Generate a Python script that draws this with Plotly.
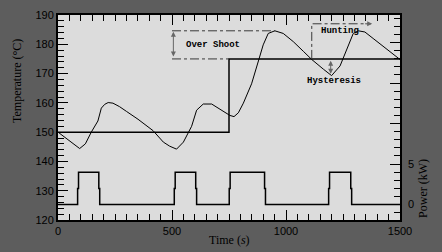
import plotly.graph_objects as go

# Temperature curve (s, °C)
time_s = [0, 30, 60, 95, 120, 146, 175, 190, 205, 220, 241, 270, 300, 351, 417, 462, 490,
          520, 550, 571, 586, 608, 637, 674, 700, 725, 754, 772, 791, 813, 849, 879, 900,
          922, 951, 988, 1032, 1076, 1113, 1164, 1200, 1237, 1266, 1295, 1317, 1346, 1382,
          1427, 1471, 1500]
temp_c = [150, 148.3, 146.3, 144.4, 146, 150, 153.8, 158.2, 159.5, 160.1, 159.9, 158.7, 157.1,
          154.4, 150.5, 146.6, 145.2, 144.2, 146.6, 150, 152, 157.5, 159.6, 159.6, 158.4, 157.2,
          155.7, 155.3, 156.6, 159.9, 166.5, 174.3, 179.8, 183.7, 184.6, 183.7, 180.9, 177.6,
          174.8, 171.5, 169.3, 172.6, 178.2, 183.7, 184.6, 184.2, 182, 179.2, 176.5, 174.8]

# Setpoint (°C)
sp_time = [0, 750, 750, 1500]
sp_temp = [150, 150, 175, 175]

# Heater power (kW)
pw_time = [0, 86, 86, 90, 90, 179, 179, 183, 183,
           510, 510, 514, 514, 604, 604, 608, 608,
           751, 751, 755, 755, 906, 906, 910, 910,
           1187, 1187, 1191, 1191, 1284, 1284, 1288, 1288, 1500]
pw_kw = [0, 0, 2, 2, 4, 4, 2, 2, 0,
         0, 2, 2, 4, 4, 2, 2, 0,
         0, 2, 2, 4, 4, 2, 2, 0,
         0, 2, 2, 4, 4, 2, 2, 0, 0]

# Annotation guide lines
os_top_t = [500, 952]
os_top_v = [184.6, 184.6]
os_bot_t = [500, 750]
os_bot_v = [175, 175]
hunt_t = [1113, 1113, 1370]
hunt_v = [175, 187, 187]

fig = go.Figure()
fig.add_trace(go.Scatter(x=sp_time, y=sp_temp, mode="lines",
                         line=dict(color="black", width=1.5), showlegend=False))
fig.add_trace(go.Scatter(x=time_s, y=temp_c, mode="lines",
                         line=dict(color="black", width=1), showlegend=False))
fig.add_trace(go.Scatter(x=pw_time, y=pw_kw, mode="lines", yaxis="y2",
                         line=dict(color="black", width=1.5), showlegend=False))
for tx, ty in [(os_top_t, os_top_v), (os_bot_t, os_bot_v), (hunt_t, hunt_v)]:
    fig.add_trace(go.Scatter(x=tx, y=ty, mode="lines",
                             line=dict(color="#3a3a3a", width=1, dash="dashdot"),
                             showlegend=False))

tickfont = dict(family="Liberation Sans", size=11, color="black")
annfont = dict(family="Liberation Mono", size=9, color="black")
titlefont = dict(family="Liberation Serif", size=12, color="black")

anns = [
    dict(x=680, y=179.8, text="<b>Over Shoot</b>", showarrow=False, font=annfont),
    dict(x=1235, y=184.6, text="<b>Hunting</b>", showarrow=False, font=annfont),
    dict(x=1210, y=167.5, text="<b>Hysteresis</b>", showarrow=False, font=annfont),
    # arrows
    dict(x=506, y=184.3, ax=506, ay=175.3, xref="x", yref="y", axref="x", ayref="y",
         showarrow=True, arrowhead=2, arrowside="end+start", arrowsize=1, arrowwidth=1,
         arrowcolor="#666666", text=""),
    dict(x=1196, y=174.4, ax=1196, ay=169.4, xref="x", yref="y", axref="x", ayref="y",
         showarrow=True, arrowhead=2, arrowside="end+start", arrowsize=1, arrowwidth=1,
         arrowcolor="#666666", text=""),
    dict(x=1378, y=187, ax=1340, ay=187, xref="x", yref="y", axref="x", ayref="y",
         showarrow=True, arrowhead=2, arrowsize=1, arrowwidth=1,
         arrowcolor="#666666", text=""),
    # axis titles
    dict(x=-0.12, y=0.678, xref="paper", yref="paper", text="Temperature (°C)",
         xanchor="center", yanchor="middle",
         textangle=-90, showarrow=False, font=titlefont),
    dict(x=1.067, y=0.156, xref="paper", yref="paper", text="Power (kW)",
         xanchor="center", yanchor="middle",
         textangle=-90, showarrow=False, font=titlefont),
    dict(x=0.5, y=-0.098, xref="paper", yref="paper", text="Time (<i>s</i>)",
         xanchor="center", yanchor="middle",
         showarrow=False, font=titlefont),
]

fig.update_layout(
    width=442, height=252,
    margin=dict(l=58, r=42, t=9, b=32),
    paper_bgcolor="#5d5d5d", plot_bgcolor="#dcdcdc",
    showlegend=False,
    annotations=anns,
    xaxis=dict(range=[0, 1500], tickmode="linear", tick0=0, dtick=500,
               ticks="inside", ticklen=10, tickwidth=1, tickcolor="black",
               minor=dict(tickmode="linear", tick0=0, dtick=50, ticks="inside",
                          ticklen=6, tickcolor="black"),
               showline=True, linecolor="black", linewidth=2, mirror="ticks",
               showgrid=False, zeroline=False, tickfont=tickfont),
    yaxis=dict(range=[120, 190], tickmode="linear", tick0=120, dtick=10,
               ticks="inside", ticklen=10, tickwidth=1, tickcolor="black",
               minor=dict(tickmode="linear", tick0=120, dtick=2, ticks="inside",
                          ticklen=6, tickcolor="black"),
               showline=True, linecolor="black", linewidth=2, mirror=True,
               showgrid=False, zeroline=False, tickfont=tickfont),
    yaxis2=dict(range=[-1.9, 23.4], overlaying="y", side="right",
                tickmode="array", tickvals=[0, 5, 10, 15, 20],
                ticktext=["0", "5", "", "", ""],
                ticks="inside", ticklen=10, tickwidth=1, tickcolor="black",
                minor=dict(tickmode="linear", tick0=0, dtick=1, ticks="inside",
                           ticklen=6, tickcolor="black"),
                ticklabelstandoff=7,
                showline=False, showgrid=False, zeroline=False, tickfont=tickfont),
)

fig.write_html("out.html")
